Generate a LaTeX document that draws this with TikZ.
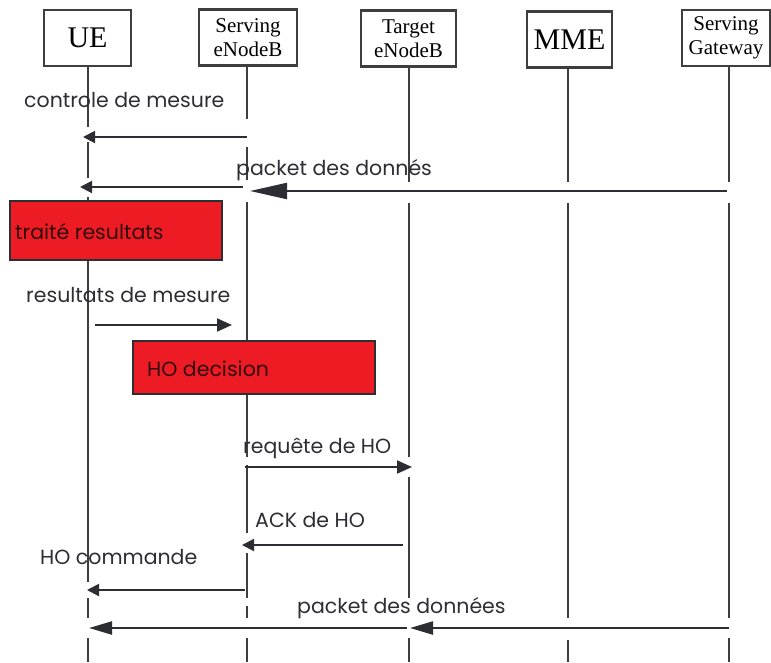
\documentclass[tikz,border=0pt]{standalone}
\usepackage{fontspec}
\setmainfont{Liberation Serif}
\newfontfamily\lab{Poppins}
\usetikzlibrary{arrows.meta}
\definecolor{ink}{RGB}{45,45,52}
\definecolor{linegray}{RGB}{62,62,62}
\definecolor{boxred}{RGB}{237,28,36}
\definecolor{redtext}{RGB}{50,10,12}
\begin{document}
\begin{tikzpicture}[x=1pt,y=-1pt,
  entity/.style={draw=linegray, line width=2.2pt, fill=white, minimum height=56pt,
    inner sep=0pt, align=center},
  bigname/.style={font=\fontsize{30}{30}\selectfont},
  twoline/.style={font=\fontsize{21}{24}\selectfont},
  life/.style={draw=linegray, line width=1.8pt},
  msg/.style={draw=ink, line width=2pt, -{Triangle[length=12pt,width=12pt]}},
  bigmsg/.style={draw=ink, line width=2.2pt, -{Triangle[length=37pt,width=16pt]}},
  midmsg/.style={draw=ink, line width=2.2pt, -{Triangle[length=23pt,width=13pt]}},
  lbl/.style={font=\lab\fontsize{20.5}{22}\selectfont, text=ink, inner sep=0pt, anchor=west},
  act/.style={draw=ink, line width=1.5pt, fill=boxred, anchor=north west, inner sep=0pt},
  acttext/.style={font=\lab\fontsize{20.5}{22}\selectfont, text=redtext, inner sep=0pt, anchor=west}]
\useasboundingbox (0,0) rectangle (771,662);

% participants
\node[entity, bigname, minimum width=87pt] (ue)  at (87.5,38) {UE};
\node[entity, twoline, minimum width=98pt] (sv)  at (248,37.5) {Serving\\eNodeB};
\node[entity, twoline, minimum width=95pt] (tg)  at (408.5,38.5) {Target\\eNodeB};
\node[entity, bigname, minimum width=85pt] (mme) at (569.5,39.5) {MME};
\node[entity, twoline, minimum width=88pt] (gw)  at (726,38) {Serving\\Gateway};

% lifelines, drawn in pieces
\foreach \a/\b in {66/127, 142/178, 197/200, 259/582, 598/618, 638/662}
  \draw[life] (88,\a) -- (88,\b);
\foreach \a/\b in {66/119, 147/180, 202/340, 393/457, 465/533, 553/598, 606/618, 638/662}
  \draw[life] (247,\a) -- (247,\b);
\foreach \a/\b in {67/182, 203/457, 477/598, 638/662}
  \draw[life] (409,\a) -- (409,\b);
\foreach \a/\b in {68/182, 203/618, 640/662}
  \draw[life] (568,\a) -- (568,\b);
\foreach \a/\b in {66/182, 203/618, 638/662}
  \draw[life] (729,\a) -- (729,\b);

% message end points
\coordinate (m1s) at (247,137);  \coordinate (m1e) at (83,137);
\coordinate (m2s) at (243,187);  \coordinate (m2e) at (80,187);
\coordinate (m3s) at (727,191);  \coordinate (m3e) at (250,191);
\coordinate (m4s) at (95,325);   \coordinate (m4e) at (232,325);
\coordinate (m5s) at (245,467);  \coordinate (m5e) at (412,467);
\coordinate (m6s) at (403,545);  \coordinate (m6e) at (242,545);
\coordinate (m7s) at (245,590);  \coordinate (m7e) at (87,590);
\coordinate (m8s) at (729,628);  \coordinate (m8e) at (410,628);
\coordinate (m9s) at (407,628);  \coordinate (m9e) at (89,628);

% activity boxes
\node[act, minimum width=212pt, minimum height=59pt] (tr) at (9,200) {};
\node[acttext] (trt) at (15,232) {traité resultats};
\node[act, minimum width=242pt, minimum height=53pt] (hod) at (132,340) {};
\node[acttext] (hodt) at (147,369) {HO decision};

% messages
\node[lbl] (l1) at (24,100) {controle de mesure};
\draw[msg] (m1s) -- (m1e);
\node[lbl] (l2) at (236,170) {packet des donnés};
\draw[msg] (m2s) -- (m2e);
\draw[bigmsg] (m3s) -- (m3e);
\node[lbl] (l3) at (26,295) {resultats de mesure};
\draw[msg, -{Triangle[length=15pt,width=13pt]}] (m4s) -- (m4e);
\node[lbl] (l4) at (243,448) {requête de HO};
\draw[msg, -{Triangle[length=15pt,width=13pt]}] (m5s) -- (m5e);
\node[lbl] (l5) at (255,520) {ACK de HO};
\draw[msg] (m6s) -- (m6e);
\node[lbl] (l6) at (40,557) {HO commande};
\draw[msg] (m7s) -- (m7e);
\node[lbl] (l7) at (297,608) {packet des données};
\draw[midmsg] (m8s) -- (m8e);
\draw[midmsg] (m9s) -- (m9e);
\end{tikzpicture}
\end{document}
